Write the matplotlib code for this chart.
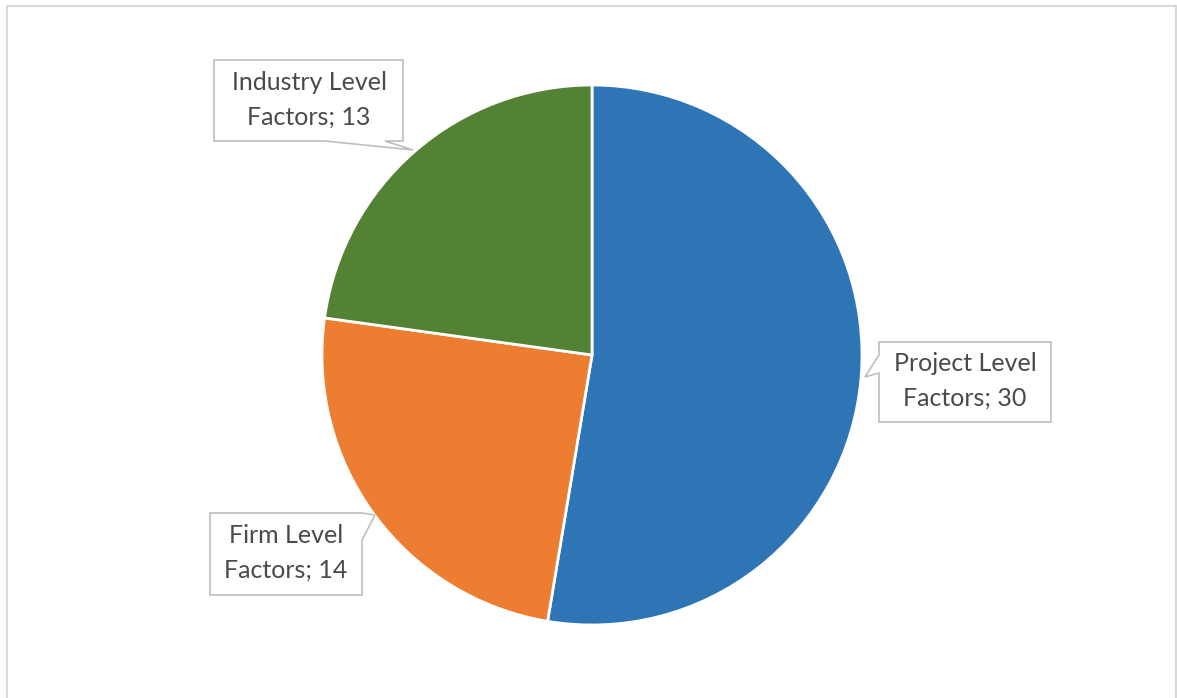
import matplotlib.pyplot as plt
from matplotlib.patches import Polygon, Rectangle

plt.rcParams['font.family'] = ['Lato', 'DejaVu Sans']

categories = ['Project Level\nFactors', 'Firm Level\nFactors', 'Industry Level\nFactors']
values = [30, 14, 13]
colors = ['#2E75B6', '#ED7D31', '#548235']

W, H = 1177, 698
fig = plt.figure(figsize=(W / 100, H / 100), dpi=100)
ax = fig.add_axes([0, 0, 1, 1])

# pixel layout, y measured from the top
cx, cy, r = 592, 355, 270

ax.pie(values, colors=colors, startangle=90, counterclock=False,
       center=(cx, H - cy), radius=r, frame=True,
       wedgeprops=dict(edgecolor='white', linewidth=2))
ax.set_xlim(0, W)
ax.set_ylim(0, H)
ax.set_aspect('equal')
ax.axis('off')

# outer chart border
ax.add_patch(Rectangle((7, -5), W - 8, H - 3 + 5 - 3, fill=False,
                       edgecolor='#d9d9d9', linewidth=1.5))

# callout boxes: outline points (image coords) and text centre
callouts = [
    # project
    ([(879, 342), (1051, 342), (1051, 422), (879, 422), (879, 373),
      (865, 377), (879, 355)], (965, 381)),
    # firm
    ([(210, 513), (362, 513), (375, 515), (362, 540), (362, 595),
      (210, 595)], (286, 553)),
    # industry
    ([(214, 60), (403, 60), (403, 141), (385, 141), (413, 150),
      (325, 141), (214, 141)], (309, 100)),
]

for i, (pts, (tx, ty)) in enumerate(callouts):
    poly = [(x, H - y) for x, y in pts]
    ax.add_patch(Polygon(poly, closed=True, facecolor='white',
                         edgecolor='#bfbfbf', linewidth=1.2, zorder=5))
    ax.text(tx, H - ty, f'{categories[i]}; {values[i]}', ha='center',
            va='center', fontsize=18, color='#4a4a4a', linespacing=1.6,
            zorder=6)

fig.savefig('out.png', dpi=100)
